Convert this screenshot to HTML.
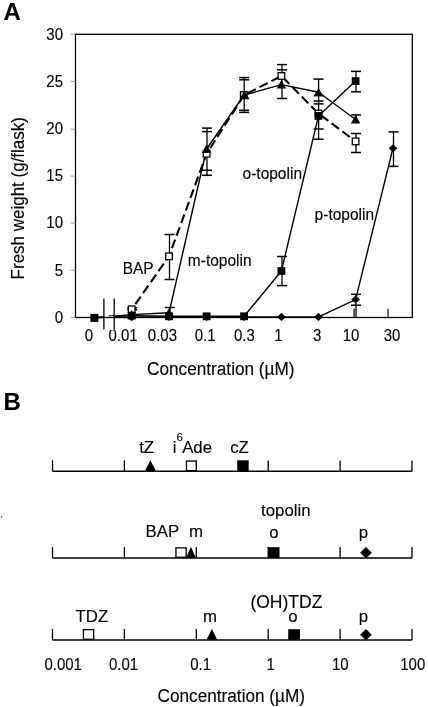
<!DOCTYPE html>
<html><head><meta charset="utf-8"><style>
html,body{margin:0;padding:0;background:#fff;}
svg{display:block;filter:grayscale(1);}
text{font-family:"Liberation Sans",sans-serif;fill:#000;stroke:#000;stroke-width:0.12px;}
</style></head><body>
<svg width="428" height="707" viewBox="0 0 428 707">
<rect width="428" height="707" fill="#fff"/>
<rect x="75.5" y="34.3" width="336.8" height="283.2" fill="none" stroke="#000" stroke-width="1.3"/>
<line x1="70.5" y1="317.50" x2="75.5" y2="317.50" stroke="#999" stroke-width="1"/>
<text transform="translate(54.64,322.80) scale(1,1.09)" font-size="15">0</text>
<line x1="70.5" y1="270.20" x2="75.5" y2="270.20" stroke="#999" stroke-width="1"/>
<text transform="translate(54.69,275.59) scale(1,1.09)" font-size="15">5</text>
<line x1="70.5" y1="223.00" x2="75.5" y2="223.00" stroke="#999" stroke-width="1"/>
<text transform="translate(46.30,228.38) scale(1,1.09)" font-size="15">10</text>
<line x1="70.5" y1="176.10" x2="75.5" y2="176.10" stroke="#999" stroke-width="1"/>
<text transform="translate(46.35,181.17) scale(1,1.09)" font-size="15">15</text>
<line x1="70.5" y1="129.20" x2="75.5" y2="129.20" stroke="#999" stroke-width="1"/>
<text transform="translate(46.30,133.96) scale(1,1.09)" font-size="15">20</text>
<line x1="70.5" y1="81.40" x2="75.5" y2="81.40" stroke="#999" stroke-width="1"/>
<text transform="translate(46.35,86.75) scale(1,1.09)" font-size="15">25</text>
<line x1="70.5" y1="34.30" x2="75.5" y2="34.30" stroke="#999" stroke-width="1"/>
<text transform="translate(46.30,39.54) scale(1,1.09)" font-size="15">30</text>
<text transform="translate(84.83,341.00) scale(1,1.09)" font-size="15">0</text>
<text transform="translate(108.38,341.00) scale(1,1.09)" font-size="15">0.01</text>
<text transform="translate(147.84,341.00) scale(1,1.09)" font-size="15">0.03</text>
<text transform="translate(194.65,341.00) scale(1,1.09)" font-size="15">0.1</text>
<text transform="translate(234.01,341.00) scale(1,1.09)" font-size="15">0.3</text>
<text transform="translate(274.22,341.00) scale(1,1.09)" font-size="15">1</text>
<text transform="translate(312.97,341.00) scale(1,1.09)" font-size="15">3</text>
<text transform="translate(342.78,341.00) scale(1,1.09)" font-size="15">10</text>
<text transform="translate(383.67,341.00) scale(1,1.09)" font-size="15">30</text>
<line x1="354.1" y1="308.6" x2="354.1" y2="317.5" stroke="#222" stroke-width="1.4"/>
<line x1="388.1" y1="308.8" x2="388.1" y2="317.5" stroke="#333" stroke-width="1.4"/>
<line x1="132.2" y1="307.8" x2="132.2" y2="317.5" stroke="#000" stroke-width="1.3"/>
<line x1="127.19999999999999" y1="307.8" x2="137.2" y2="307.8" stroke="#000" stroke-width="1.5"/>
<line x1="127.19999999999999" y1="309.8" x2="137.2" y2="309.8" stroke="#000" stroke-width="1.5"/>
<line x1="169.8" y1="307.5" x2="169.8" y2="317.5" stroke="#000" stroke-width="1.3"/>
<line x1="164.8" y1="307.5" x2="174.8" y2="307.5" stroke="#000" stroke-width="1.5"/>
<line x1="169.5" y1="234.5" x2="169.5" y2="279.5" stroke="#000" stroke-width="1.3"/>
<line x1="164.5" y1="234.5" x2="174.5" y2="234.5" stroke="#000" stroke-width="1.5"/>
<line x1="164.5" y1="279.5" x2="174.5" y2="279.5" stroke="#000" stroke-width="1.5"/>
<line x1="207.0" y1="128.1" x2="207.0" y2="175.3" stroke="#000" stroke-width="1.3"/>
<line x1="202.0" y1="128.1" x2="212.0" y2="128.1" stroke="#000" stroke-width="1.5"/>
<line x1="202.0" y1="131.6" x2="212.0" y2="131.6" stroke="#000" stroke-width="1.5"/>
<line x1="202.0" y1="170.3" x2="212.0" y2="170.3" stroke="#000" stroke-width="1.5"/>
<line x1="202.0" y1="175.3" x2="212.0" y2="175.3" stroke="#000" stroke-width="1.5"/>
<line x1="244.2" y1="77.6" x2="244.2" y2="112.4" stroke="#000" stroke-width="1.3"/>
<line x1="239.2" y1="77.6" x2="249.2" y2="77.6" stroke="#000" stroke-width="1.5"/>
<line x1="239.2" y1="79.8" x2="249.2" y2="79.8" stroke="#000" stroke-width="1.5"/>
<line x1="239.2" y1="110.3" x2="249.2" y2="110.3" stroke="#000" stroke-width="1.5"/>
<line x1="239.2" y1="112.4" x2="249.2" y2="112.4" stroke="#000" stroke-width="1.5"/>
<line x1="282.0" y1="64.6" x2="282.0" y2="98.5" stroke="#000" stroke-width="1.3"/>
<line x1="277.0" y1="64.6" x2="287.0" y2="64.6" stroke="#000" stroke-width="1.5"/>
<line x1="277.0" y1="69.8" x2="287.0" y2="69.8" stroke="#000" stroke-width="1.5"/>
<line x1="277.0" y1="98.5" x2="287.0" y2="98.5" stroke="#000" stroke-width="1.5"/>
<line x1="282.0" y1="256.5" x2="282.0" y2="285.6" stroke="#000" stroke-width="1.3"/>
<line x1="277.0" y1="256.5" x2="287.0" y2="256.5" stroke="#000" stroke-width="1.5"/>
<line x1="277.0" y1="285.6" x2="287.0" y2="285.6" stroke="#000" stroke-width="1.5"/>
<line x1="318.6" y1="79.1" x2="318.6" y2="139.2" stroke="#000" stroke-width="1.3"/>
<line x1="313.6" y1="79.1" x2="323.6" y2="79.1" stroke="#000" stroke-width="1.5"/>
<line x1="313.6" y1="95.5" x2="323.6" y2="95.5" stroke="#000" stroke-width="1.5"/>
<line x1="313.6" y1="101.0" x2="323.6" y2="101.0" stroke="#000" stroke-width="1.5"/>
<line x1="313.6" y1="103.9" x2="323.6" y2="103.9" stroke="#000" stroke-width="1.5"/>
<line x1="313.6" y1="129.0" x2="323.6" y2="129.0" stroke="#000" stroke-width="1.5"/>
<line x1="313.6" y1="139.2" x2="323.6" y2="139.2" stroke="#000" stroke-width="1.5"/>
<line x1="356.0" y1="71.4" x2="356.0" y2="91.8" stroke="#000" stroke-width="1.3"/>
<line x1="351.0" y1="71.4" x2="361.0" y2="71.4" stroke="#000" stroke-width="1.5"/>
<line x1="351.0" y1="91.8" x2="361.0" y2="91.8" stroke="#000" stroke-width="1.5"/>
<line x1="356.0" y1="114.9" x2="356.0" y2="122.7" stroke="#000" stroke-width="1.3"/>
<line x1="351.0" y1="114.9" x2="361.0" y2="114.9" stroke="#000" stroke-width="1.5"/>
<line x1="356.0" y1="133.5" x2="356.0" y2="152.5" stroke="#000" stroke-width="1.3"/>
<line x1="351.0" y1="133.5" x2="361.0" y2="133.5" stroke="#000" stroke-width="1.5"/>
<line x1="351.0" y1="152.5" x2="361.0" y2="152.5" stroke="#000" stroke-width="1.5"/>
<line x1="356.0" y1="294.3" x2="356.0" y2="317.5" stroke="#000" stroke-width="1.3"/>
<line x1="351.0" y1="294.3" x2="361.0" y2="294.3" stroke="#000" stroke-width="1.5"/>
<line x1="351.0" y1="305.2" x2="361.0" y2="305.2" stroke="#000" stroke-width="1.5"/>
<line x1="393.5" y1="131.9" x2="393.5" y2="166.4" stroke="#000" stroke-width="1.3"/>
<line x1="388.5" y1="131.9" x2="398.5" y2="131.9" stroke="#000" stroke-width="1.5"/>
<line x1="388.5" y1="166.4" x2="398.5" y2="166.4" stroke="#000" stroke-width="1.5"/>
<polyline points="94.4,317.6 131.7,317.2 169.0,317.0 206.6,317.0 244.1,317.0 281.4,316.9 318.5,316.9 355.6,299.6 393.0,148.2" fill="none" stroke="#000" stroke-width="1.4" stroke-linejoin="round"/>
<polyline points="94.4,317.8 131.7,315.6 169.0,316.3 206.6,316.3 244.1,316.3 281.4,271.0 318.5,115.9 355.6,81.1" fill="none" stroke="#000" stroke-width="1.4" stroke-linejoin="round"/>
<polyline points="94.4,317.6 131.7,314.6 169.0,312.8 206.6,149.0 244.1,95.0 281.4,84.6 318.5,92.3 355.6,119.5" fill="none" stroke="#000" stroke-width="1.4" stroke-linejoin="round"/>
<polyline points="131.7,309.3 169.0,256.3 206.6,153.8 244.1,95.0 281.4,76.0 318.5,113.5 355.6,141.4" fill="none" stroke="#000" stroke-width="2.1" stroke-dasharray="9.2,4.2" stroke-dashoffset="7" stroke-linejoin="round"/>
<rect x="128.40" y="306.00" width="6.6" height="6.6" fill="#fff" stroke="#000" stroke-width="1.3"/>
<rect x="165.70" y="253.00" width="6.6" height="6.6" fill="#fff" stroke="#000" stroke-width="1.3"/>
<rect x="203.30" y="150.50" width="6.6" height="6.6" fill="#fff" stroke="#000" stroke-width="1.3"/>
<rect x="240.50" y="91.70" width="6.6" height="6.6" fill="#fff" stroke="#000" stroke-width="1.3"/>
<rect x="278.10" y="72.70" width="6.6" height="6.6" fill="#fff" stroke="#000" stroke-width="1.3"/>
<rect x="315.20" y="110.20" width="6.6" height="6.6" fill="#fff" stroke="#000" stroke-width="1.3"/>
<rect x="352.30" y="138.10" width="6.6" height="6.6" fill="#fff" stroke="#000" stroke-width="1.3"/>
<path d="M131.70,313.20 L136.10,317.20 L131.70,321.20 L127.30,317.20 Z" fill="#000"/>
<path d="M169.00,313.00 L173.40,317.00 L169.00,321.00 L164.60,317.00 Z" fill="#000"/>
<path d="M206.60,313.00 L211.00,317.00 L206.60,321.00 L202.20,317.00 Z" fill="#000"/>
<path d="M244.10,313.00 L248.50,317.00 L244.10,321.00 L239.70,317.00 Z" fill="#000"/>
<path d="M281.40,312.90 L285.80,316.90 L281.40,320.90 L277.00,316.90 Z" fill="#000"/>
<path d="M318.50,312.90 L322.90,316.90 L318.50,320.90 L314.10,316.90 Z" fill="#000"/>
<path d="M355.60,295.60 L360.00,299.60 L355.60,303.60 L351.20,299.60 Z" fill="#000"/>
<path d="M393.00,144.20 L397.40,148.20 L393.00,152.20 L388.60,148.20 Z" fill="#000"/>
<rect x="127.80" y="311.70" width="7.8" height="7.8" fill="#000" stroke="#000" stroke-width="0"/>
<rect x="165.10" y="312.40" width="7.8" height="7.8" fill="#000" stroke="#000" stroke-width="0"/>
<rect x="202.70" y="312.40" width="7.8" height="7.8" fill="#000" stroke="#000" stroke-width="0"/>
<rect x="240.20" y="312.40" width="7.8" height="7.8" fill="#000" stroke="#000" stroke-width="0"/>
<rect x="277.50" y="267.10" width="7.8" height="7.8" fill="#000" stroke="#000" stroke-width="0"/>
<rect x="314.60" y="112.00" width="7.8" height="7.8" fill="#000" stroke="#000" stroke-width="0"/>
<rect x="351.70" y="77.20" width="7.8" height="7.8" fill="#000" stroke="#000" stroke-width="0"/>
<path d="M131.70,310.10 L136.45,318.60 L126.95,318.60 Z" fill="#000"/>
<path d="M169.00,308.30 L173.75,316.80 L164.25,316.80 Z" fill="#000"/>
<path d="M206.60,144.50 L211.35,153.00 L201.85,153.00 Z" fill="#000"/>
<path d="M244.40,90.25 L249.40,99.25 L239.40,99.25 Z" fill="#000"/>
<path d="M281.40,80.10 L286.15,88.60 L276.65,88.60 Z" fill="#000"/>
<path d="M318.50,87.80 L323.25,96.30 L313.75,96.30 Z" fill="#000"/>
<path d="M355.60,115.00 L360.35,123.50 L350.85,123.50 Z" fill="#000"/>
<rect x="90.40" y="313.90" width="8.0" height="8.0" fill="#000" stroke="#000" stroke-width="0"/>
<rect x="104.3" y="296" width="9.5" height="34" fill="#fff"/>
<line x1="103.9" y1="298.5" x2="103.9" y2="329.5" stroke="#000" stroke-width="1.3"/>
<line x1="114.2" y1="298.5" x2="114.2" y2="329.5" stroke="#000" stroke-width="1.3"/>
<line x1="104" y1="317.5" x2="114" y2="317.5" stroke="#000" stroke-width="1.3"/>
<line x1="108.5" y1="315.8" x2="114" y2="315.6" stroke="#000" stroke-width="0.9"/>
<text transform="translate(3.50,20.20)" font-size="24" font-weight="bold">A</text>
<text transform="translate(147.03,375.30) scale(1,1.06)" font-size="17.2">Concentration (µM)</text>
<text transform="translate(23.6,279.39) rotate(-90) scale(1,1.06)" font-size="17">Fresh weight (g/flask)</text>
<text transform="translate(122.63,274.40) scale(1,1.06)" font-size="15.5">BAP</text>
<text transform="translate(187.87,265.60) scale(1,1.06)" font-size="15.5">m-topolin</text>
<text transform="translate(242.55,178.80) scale(1,1.06)" font-size="15.5">o-topolin</text>
<text transform="translate(314.60,219.60) scale(1,1.06)" font-size="15.5">p-topolin</text>
<text transform="translate(3.59,410.20)" font-size="24" font-weight="bold">B</text>
<line x1="52.5" y1="471.3" x2="412.0" y2="471.3" stroke="#000" stroke-width="1.5"/>
<line x1="52.5" y1="460.4" x2="52.5" y2="471.3" stroke="#000" stroke-width="1.3"/>
<line x1="124.4" y1="460.4" x2="124.4" y2="471.3" stroke="#000" stroke-width="1.3"/>
<line x1="196.3" y1="460.4" x2="196.3" y2="471.3" stroke="#000" stroke-width="1.3"/>
<line x1="268.2" y1="460.4" x2="268.2" y2="471.3" stroke="#000" stroke-width="1.3"/>
<line x1="340.1" y1="460.4" x2="340.1" y2="471.3" stroke="#000" stroke-width="1.3"/>
<line x1="412.0" y1="460.4" x2="412.0" y2="471.3" stroke="#000" stroke-width="1.3"/>
<line x1="52.5" y1="557.9" x2="412.0" y2="557.9" stroke="#000" stroke-width="1.5"/>
<line x1="52.5" y1="547.0" x2="52.5" y2="557.9" stroke="#000" stroke-width="1.3"/>
<line x1="124.4" y1="547.0" x2="124.4" y2="557.9" stroke="#000" stroke-width="1.3"/>
<line x1="196.3" y1="547.0" x2="196.3" y2="557.9" stroke="#000" stroke-width="1.3"/>
<line x1="268.2" y1="547.0" x2="268.2" y2="557.9" stroke="#000" stroke-width="1.3"/>
<line x1="340.1" y1="547.0" x2="340.1" y2="557.9" stroke="#000" stroke-width="1.3"/>
<line x1="412.0" y1="547.0" x2="412.0" y2="557.9" stroke="#000" stroke-width="1.3"/>
<line x1="52.5" y1="639.9" x2="412.0" y2="639.9" stroke="#000" stroke-width="1.5"/>
<line x1="52.5" y1="629.0" x2="52.5" y2="639.9" stroke="#000" stroke-width="1.3"/>
<line x1="124.4" y1="629.0" x2="124.4" y2="639.9" stroke="#000" stroke-width="1.3"/>
<line x1="196.3" y1="629.0" x2="196.3" y2="639.9" stroke="#000" stroke-width="1.3"/>
<line x1="268.2" y1="629.0" x2="268.2" y2="639.9" stroke="#000" stroke-width="1.3"/>
<line x1="340.1" y1="629.0" x2="340.1" y2="639.9" stroke="#000" stroke-width="1.3"/>
<line x1="412.0" y1="629.0" x2="412.0" y2="639.9" stroke="#000" stroke-width="1.3"/>
<path d="M150.40,460.2 L156.1,471.3 L144.7,471.3 Z" fill="#000"/>
<rect x="186.45" y="461.05" width="9.80" height="9.60" fill="#fff" stroke="#000" stroke-width="1.3"/>
<rect x="237.2" y="460.3" width="11.50" height="11.00" fill="#000"/>
<text transform="translate(139.15,452.80)" font-size="16.8">tZ</text>
<text transform="translate(172.68,452.80)" font-size="16.8">i</text>
<text transform="translate(176.42,441.00)" font-size="11.5">6</text>
<text transform="translate(182.17,452.80)" font-size="16.8">Ade</text>
<text transform="translate(230.19,452.80)" font-size="16.8">cZ</text>
<rect x="175.95" y="547.85" width="10.20" height="9.40" fill="#fff" stroke="#000" stroke-width="1.3"/>
<path d="M190.95,546.8 L195.9,557.9 L186.0,557.9 Z" fill="#000"/>
<rect x="268.2" y="547.2" width="11.30" height="10.80" fill="#000"/>
<path d="M365.95,546.9 L371.8,552.65 L365.95,558.4 L360.1,552.65 Z" fill="#000"/>
<text transform="translate(145.62,537.20)" font-size="16.8">BAP</text>
<text transform="translate(188.88,537.20)" font-size="16.8">m</text>
<text transform="translate(261.05,516.30)" font-size="16.8">topolin</text>
<text transform="translate(269.29,537.60)" font-size="16.8">o</text>
<text transform="translate(358.82,537.70)" font-size="16.8">p</text>
<rect x="83.45" y="629.65" width="10.20" height="9.60" fill="#fff" stroke="#000" stroke-width="1.3"/>
<path d="M211.90,629.0 L217.4,639.9 L206.4,639.9 Z" fill="#000"/>
<rect x="288.2" y="629.2" width="11.80" height="10.80" fill="#000"/>
<path d="M365.95,628.9 L371.8,634.75 L365.95,640.6 L360.1,634.75 Z" fill="#000"/>
<text transform="translate(75.62,622.00)" font-size="16.8">TDZ</text>
<text transform="translate(202.88,622.00)" font-size="16.8">m</text>
<text transform="translate(250.41,607.60)" font-size="17.5">(OH)TDZ</text>
<text transform="translate(288.19,622.00)" font-size="16.8">o</text>
<text transform="translate(358.72,622.20)" font-size="16.8">p</text>
<text transform="translate(44.40,669.80) scale(1,1.09)" font-size="15">0.001</text>
<text transform="translate(108.98,669.80) scale(1,1.09)" font-size="15">0.01</text>
<text transform="translate(190.25,669.80) scale(1,1.09)" font-size="15">0.1</text>
<text transform="translate(266.62,669.80) scale(1,1.09)" font-size="15">1</text>
<text transform="translate(331.88,669.80) scale(1,1.09)" font-size="15">10</text>
<text transform="translate(400.21,669.80) scale(1,1.09)" font-size="15">100</text>
<text transform="translate(157.53,701.60) scale(1,1.06)" font-size="17.2">Concentration (µM)</text>
<circle cx="1.5" cy="517" r="0.8" fill="#444"/>
</svg>
</body></html>
